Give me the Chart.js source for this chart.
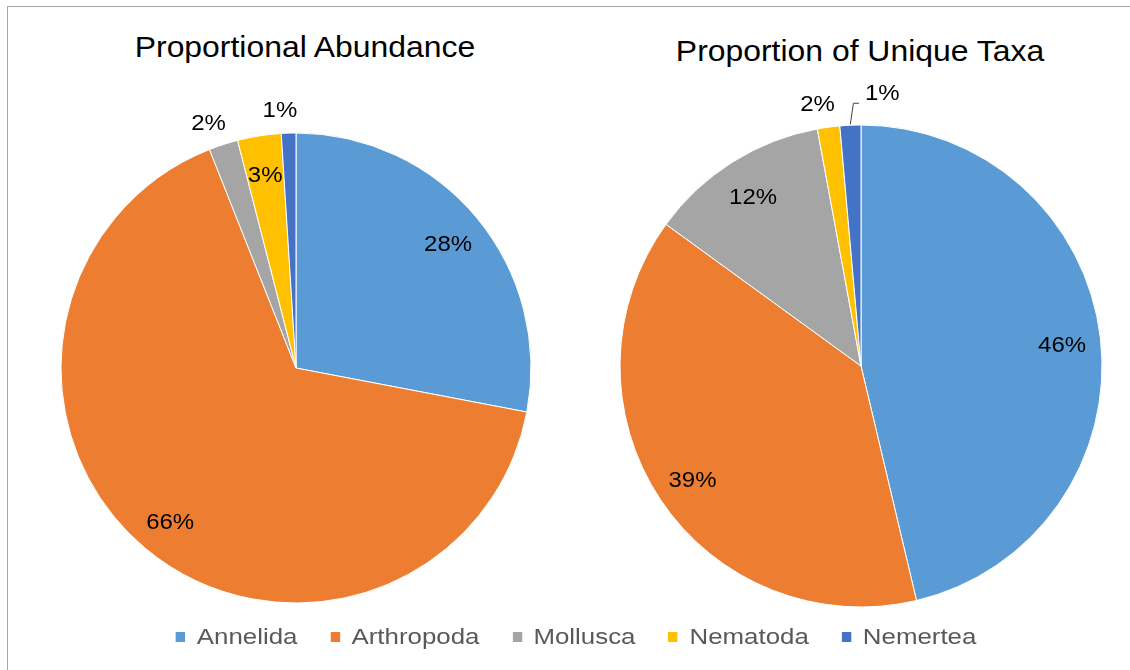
<!DOCTYPE html>
<html>
<head>
<meta charset="utf-8">
<script src="https://cdn.jsdelivr.net/npm/chart.js@4.4.1/dist/chart.umd.min.js"></script>
<style>
    body { margin: 0; width: 1130px; height: 670px; background: #fff; overflow: hidden; position: relative; font-family: "Liberation Sans", Arial, sans-serif; }
    #frame { position: absolute; left: 7px; top: 6px; width: 1130px; height: 670px; border: 1px solid #a6a6a6; }
    .title { position: absolute; font-size: 29px; line-height: 29px; color: #000; white-space: nowrap; transform: translateX(-50%) scaleX(1.1); }
    canvas { position: absolute; }
    #legend { position: absolute; left: 576px; top: 626px; white-space: nowrap; transform: translateX(-50%) scaleX(1.175); display: flex; align-items: center; font-size: 22px; line-height: 22px; color: #595959; }
    #legend .item { display: flex; align-items: center; margin: 0 14px; }
    #legend .box { width: 8px; height: 10px; margin-right: 10px; }
</style>
</head>
<body>
<div id="frame"></div>
<div class="title" style="left:305px; top:33px;">Proportional Abundance</div>
<div class="title" style="left:860px; top:37px;">Proportion of Unique Taxa</div>
<canvas id="abundanceChart" width="560" height="600" style="left:16px; top:68px;"></canvas>
<canvas id="taxaChart" width="560" height="600" style="left:581px; top:66px;"></canvas>
<div id="legend"></div>
<script>
    const categories = ['Annelida', 'Arthropoda', 'Mollusca', 'Nematoda', 'Nemertea'];
    const abundance = [28, 66, 2, 3, 1];
    const uniqueTaxa = [46.3, 38.7, 12.1, 1.5, 1.4];
    const colors = ['#5b9bd5', '#ed7d31', '#a5a5a5', '#ffc000', '#4472c4'];

    const SX = 1.09;

    // percent labels, small slices go outside (with a leader line if they collide)
    const sliceLabels = {
        id: 'sliceLabels',
        afterDatasetsDraw(chart) {
            const ctx = chart.ctx;
            const meta = chart.getDatasetMeta(0);
            const values = chart.data.datasets[0].data;
            const total = values.reduce((a, b) => a + b, 0);
            ctx.save();
            ctx.font = '22px "Liberation Sans", Arial, sans-serif';
            ctx.fillStyle = '#000';
            ctx.textAlign = 'center';
            ctx.textBaseline = 'middle';
            let prev = null;
            meta.data.forEach((arc, i) => {
                const p = arc.getProps(['x', 'y', 'startAngle', 'endAngle', 'outerRadius'], true);
                const pct = values[i] / total * 100;
                const text = Math.round(pct) + '%';
                const mid = (p.startAngle + p.endAngle) / 2;
                const w = ctx.measureText(text).width * SX;
                let x, y;
                if (pct >= 2.5) {
                    const r = p.outerRadius * 0.84;
                    x = p.x + Math.cos(mid) * r;
                    y = p.y + Math.sin(mid) * r + 3;
                } else {
                    const r = p.outerRadius + 22;
                    x = p.x + Math.cos(mid) * r;
                    y = p.y + Math.sin(mid) * r;
                    if (prev && x - w / 2 < prev.right + 4) {
                        const ny = y;
                        const ex = p.x + Math.cos(mid) * (p.outerRadius + 1);
                        const ey = p.y + Math.sin(mid) * (p.outerRadius + 1);
                        const left = prev.right + 30;
                        ctx.strokeStyle = '#404040';
                        ctx.lineWidth = 1;
                        ctx.beginPath();
                        ctx.moveTo(ex, ey);
                        ctx.lineTo(ex + 3, ny);
                        ctx.lineTo(left - 6, ny);
                        ctx.stroke();
                        x = left + w / 2;
                        y = ny - 9;
                    } else if (x < p.x) {
                        x -= 8;
                    }
                    prev = { right: x + w / 2 };
                }
                ctx.save();
                ctx.translate(x, y);
                ctx.scale(SX, 1);
                ctx.fillText(text, 0, 0);
                ctx.restore();
            });
            ctx.restore();
        }
    };

    function makePie(id, values, radius) {
        return new Chart(document.getElementById(id), {
            type: 'pie',
            data: {
                labels: categories,
                datasets: [{
                    data: values,
                    backgroundColor: colors,
                    borderColor: '#ffffff',
                    borderWidth: 1,
                    radius: radius
                }]
            },
            options: {
                responsive: false,
                animation: false,
                layout: { padding: 0 },
                plugins: {
                    legend: { display: false },
                    tooltip: { enabled: false }
                }
            },
            plugins: [sliceLabels]
        });
    }

    makePie('abundanceChart', abundance, 235);
    makePie('taxaChart', uniqueTaxa, 241);

    const legend = document.getElementById('legend');
    categories.forEach((name, i) => {
        const item = document.createElement('div');
        item.className = 'item';
        item.innerHTML = '<span class="box" style="background:' + colors[i] + '"></span><span>' + name + '</span>';
        legend.appendChild(item);
    });
</script>
</body>
</html>
